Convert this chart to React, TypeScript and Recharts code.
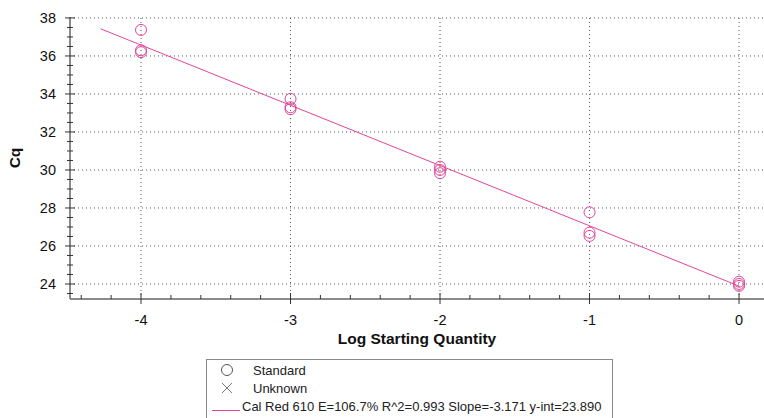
import React from 'react';
import { ScatterChart, Scatter, XAxis, YAxis, ReferenceLine } from 'recharts';

// Standard curve replicates (log starting quantity vs Cq)
const stdLogQty = [-4, -4, -4, -3, -3, -3, -2, -2, -2, -1, -1, -1, 0, 0, 0];
const stdCq = [37.37, 36.3, 36.2, 33.74, 33.3, 33.2, 30.17, 30.0, 29.83, 27.77, 26.7, 26.53, 24.12, 24.0, 23.9];

// fitted line end points
const fitLogQty = [-4.27, 0];
const fitCq = [37.43, 23.89];

// ticks (integers / even values are the labelled ones)
const xTicks = [-4.4, -4.2, -4, -3.8, -3.6, -3.4, -3.2, -3, -2.8, -2.6, -2.4, -2.2, -2, -1.8, -1.6, -1.4, -1.2, -1, -0.8, -0.6, -0.4, -0.2, 0];
const yTicks = [23.5, 24, 24.5, 25, 25.5, 26, 26.5, 27, 27.5, 28, 28.5, 29, 29.5, 30, 30.5, 31, 31.5, 32, 32.5, 33, 33.5, 34, 34.5, 35, 35.5, 36, 36.5, 37, 37.5, 38];
const xGrid = [-4, -3, -2, -1, 0];
const yGrid = [24, 26, 28, 30, 32, 34, 36, 38];

const seriesName = 'Cal Red 610';
const fitText = 'E=106.7% R^2=0.993 Slope=-3.171 y-int=23.890';

const PINK = '#e2449a';

const stdData = stdLogQty.map((x, i) => ({ x, y: stdCq[i] }));
const fitData = fitLogQty.map((x, i) => ({ x, y: fitCq[i] }));

const XTick = (props: any) => {
  const { x, y, payload } = props;
  const major = Number.isInteger(payload.value);
  return (
    <g>
      <line x1={x} x2={x} y1={major ? y - 6 : y - 4} y2={major ? y + 5 : y} stroke="#333" />
      {major && (
        <text x={x} y={y + 21} textAnchor="middle" dominantBaseline="central" fontSize={14.5} fill="#111">
          {payload.value}
        </text>
      )}
    </g>
  );
};

const TopTick = (props: any) => {
  const { x, y } = props;
  return <line x1={x} x2={x} y1={y} y2={y + 3} stroke="#555" />;
};

const YTick = (props: any) => {
  const { x, y, payload } = props;
  const major = payload.value % 2 === 0;
  return (
    <g>
      <line x1={major ? x - 5 : x - 3} x2={major ? x + 5 : x + 3} y1={y} y2={y} stroke="#333" />
      {major && (
        <text x={x - 14} y={y} textAnchor="end" dominantBaseline="central" fontSize={14.5} fill="#111">
          {payload.value}
        </text>
      )}
    </g>
  );
};

const Ring = (props: any) => <circle cx={props.cx} cy={props.cy} r={5.5} fill="none" stroke={PINK} strokeWidth={1} />;

const App: React.FC = () => {
  return (
    <div style={{ position: 'absolute', left: 0, top: 0, width: 764, height: 418, background: '#fff', fontFamily: 'Arial, "Liberation Sans", sans-serif' }}>
      <ScatterChart width={764} height={418} margin={{ top: 17, right: 0, bottom: 0, left: 0 }}>
        <XAxis
          xAxisId="top"
          orientation="top"
          type="number"
          dataKey="x"
          domain={[-4.475, 0.167]}
          ticks={xTicks}
          interval={0}
          height={0}
          tickSize={0}
          tickMargin={0}
          tickLine={false}
          tick={<TopTick />}
          axisLine={{ stroke: '#555' }}
        />
        <XAxis
          type="number"
          dataKey="x"
          domain={[-4.475, 0.167]}
          ticks={xTicks}
          interval={0}
          height={119}
          tickSize={0}
          tickMargin={0}
          tickLine={false}
          tick={<XTick />}
          axisLine={{ stroke: '#8a8a8a', strokeWidth: 2 }}
          label={{ value: 'Log Starting Quantity', position: 'insideTop', offset: 34, fontSize: 15.5, fontWeight: 'bold', fill: '#111' }}
        />
        <YAxis
          type="number"
          dataKey="y"
          domain={[23.21, 38.05]}
          ticks={yTicks}
          interval={0}
          width={70}
          tickSize={0}
          tickMargin={0}
          tickLine={false}
          tick={<YTick />}
          axisLine={{ stroke: '#8a8a8a', strokeWidth: 2 }}
          label={{ value: 'Cq', angle: -90, position: 'insideLeft', offset: 14, fontSize: 15.5, fontWeight: 'bold', fill: '#111', style: { textAnchor: 'middle' } }}
        />
        {xGrid.map(v => (
          <ReferenceLine key={'gx' + v} x={v} stroke="#555" strokeDasharray="1 3" />
        ))}
        {yGrid.map(v => (
          <ReferenceLine key={'gy' + v} y={v} stroke="#555" strokeDasharray="1 3" />
        ))}
        <Scatter data={fitData} line={{ stroke: PINK, strokeWidth: 1 }} shape={() => <g />} isAnimationActive={false} />
        <Scatter data={stdData} shape={<Ring />} isAnimationActive={false} />
      </ScatterChart>

      <svg style={{ position: 'absolute', left: 206, top: 359 }} width={408} height={60}>
        <rect x={0.5} y={0.5} width={406} height={70} fill="#fff" stroke="#8a8a8a" />
        <circle cx={21} cy={11} r={5.5} fill="none" stroke="#555" />
        <text x={47} y={11} dominantBaseline="central" fontSize={13} fill="#222">Standard</text>
        <line x1={16} x2={26} y1={24} y2={34} stroke="#777" />
        <line x1={16} x2={26} y1={34} y2={24} stroke="#777" />
        <text x={47} y={29} dominantBaseline="central" fontSize={13} fill="#222">Unknown</text>
        <line x1={6} x2={34} y1={51.5} y2={51.5} stroke={PINK} />
        <text x={36} y={47} dominantBaseline="central" fontSize={13} fill="#222">{seriesName + ' ' + fitText}</text>
      </svg>
    </div>
  );
};

export default App;
